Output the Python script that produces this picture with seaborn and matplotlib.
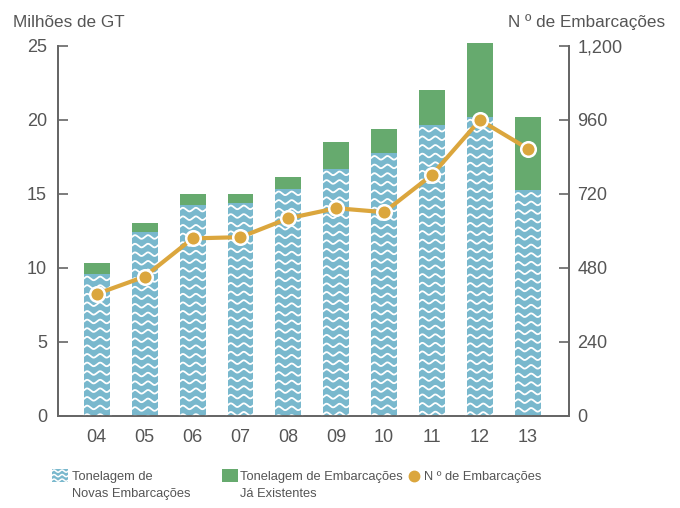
import numpy as np
import pandas as pd
import matplotlib
matplotlib.use("Agg")
import matplotlib.pyplot as plt
import seaborn as sns
from matplotlib.lines import Line2D
from matplotlib.patches import Rectangle, Patch
from matplotlib.transforms import IdentityTransform, Affine2D
from matplotlib.legend_handler import HandlerBase
from matplotlib.ticker import FuncFormatter, FixedLocator

# ---------------- data ----------------
years = ["04", "05", "06", "07", "08", "09", "10", "11", "12", "13"]
new_tonnage = [9.6, 12.4, 14.25, 14.4, 15.35, 16.7, 17.75, 19.65, 20.2, 15.25]
total_tonnage = [10.35, 13.05, 15.0, 15.0, 16.15, 18.5, 19.4, 22.05, 25.2, 20.2]
vessels = [396, 452, 576, 580, 641, 674, 661, 782, 960, 867]
left_ticks = [0, 5, 10, 15, 20, 25]
right_ticks = [0, 240, 480, 720, 960, 1200]
left_title = "Milhões de GT"
right_title = "N º de Embarcações"
legend_labels = ["Tonelagem de\nNovas Embarcações",
                 "Tonelagem de Embarcações\nJá Existentes",
                 "N º de Embarcações\n"]

# ---------------- style ----------------
BLUE = "#79b8cd"
GREEN = "#66aa6e"
ORANGE = "#dba63d"
TEXT = "#555555"
SPINE = "#666666"

sns.set_theme(style="white")
plt.rcParams["font.family"] = ["Liberation Sans", "DejaVu Sans"]
plt.rcParams["text.color"] = TEXT

fig = plt.figure(figsize=(6.8, 5.08), dpi=100)
ax = fig.add_axes([58 / 680, 1 - 416 / 508, (569 - 58) / 680, (416 - 46) / 508])

df = pd.DataFrame({"year": years, "total": total_tonnage, "new": new_tonnage})

sns.barplot(data=df, x="year", y="total", order=years, color=GREEN, saturation=1,
            width=0.54, errorbar=None, ax=ax, zorder=2)
sns.barplot(data=df, x="year", y="new", order=years, color=BLUE, saturation=1,
            width=0.54, errorbar=None, ax=ax, zorder=2)

n = len(years)
for p in ax.patches[:n]:
    p.set_clip_on(False)
    p.set_linewidth(0)
blue_patches = ax.patches[n:2 * n]
for p in blue_patches:
    p.set_linewidth(0)

ax.set_xlim(-0.81, n - 1 + 0.86)
ax.set_ylim(0, 25)
ax.yaxis.set_major_locator(FixedLocator(left_ticks))
ax.set_xlabel("")
ax.set_ylabel("")

ax2 = ax.twinx()
sns.lineplot(x=years, y=vessels, ax=ax2, color=ORANGE, linewidth=3, marker="o",
             markersize=10.5, markeredgecolor="white", markeredgewidth=1.8, zorder=5,
             clip_on=False)
ax2.set_ylim(0, 1200)
ax2.yaxis.set_major_locator(FixedLocator(right_ticks))
ax2.yaxis.set_major_formatter(FuncFormatter(lambda v, _: f"{int(v):,}"))
ax2.set_ylabel("")
ax2.set_xlim(-0.81, n - 1 + 0.86)

# wavy texture on the blue bars (generated from each bar's extent, top down)
def wave_lines(bb, spacing=8.6, amp=1.8, wavelength=13.0, top_gap=4.5):
    xs = np.linspace(bb.x0 - 2, bb.x1 + 2, 160)
    lines = []
    y = bb.y1 - top_gap
    while y > bb.y0 - spacing:
        ys = y + amp * np.sin(2 * np.pi * (xs - bb.x0) / wavelength)
        lines.append((xs, ys))
        y -= spacing
    return lines

for p in blue_patches:
    bb = p.get_window_extent()
    for xs, ys in wave_lines(bb):
        ln = Line2D(xs, ys, transform=IdentityTransform(), color="white",
                    linewidth=1.3, zorder=3, solid_capstyle="butt")
        ln.set_clip_path(p)
        ax.add_artist(ln)

# spines and ticks
for a in (ax, ax2):
    a.spines["top"].set_visible(False)
    for s in ("left", "right", "bottom"):
        a.spines[s].set_color(SPINE)
        a.spines[s].set_linewidth(1.3)
ax.tick_params(axis="y", direction="in", length=7, width=1.2, color=SPINE, pad=8,
               labelsize=13, labelcolor=TEXT)
ax.tick_params(axis="x", length=0, pad=9, labelsize=13, labelcolor=TEXT)
ax2.tick_params(axis="y", direction="in", length=7, width=1.2, color=SPINE, pad=6,
                labelsize=13, labelcolor=TEXT)
ax.grid(False)
ax2.grid(False)

fig.text(13 / 680, 1 - 27 / 508, left_title, ha="left", va="baseline",
         fontsize=12.3, color=TEXT)
fig.text(665 / 680, 1 - 27 / 508, right_title, ha="right", va="baseline",
         fontsize=12.3, color=TEXT)

# legend
LEG_FS = 9.3
LINESP = 1.55
SHIFT = LEG_FS * LINESP / 2   # lift icons to the first text line (points)

class ShiftedHandler(HandlerBase):
    def __init__(self, kind):
        super().__init__()
        self.kind = kind

    def create_artists(self, legend, orig_handle, xdescent, ydescent, width, height,
                       fontsize, trans):
        t = Affine2D().translate(0, SHIFT) + trans
        x0, y0 = -xdescent, -ydescent
        arts = []
        if self.kind == "wave":
            arts.append(Rectangle((x0, y0), width, height, facecolor=BLUE,
                                  edgecolor="none", transform=t))
            xs = np.linspace(x0, x0 + width, 40)
            for i in range(3):
                yc = y0 + height * (i + 0.5) / 3
                ys = yc + height * 0.08 * np.sin(2 * np.pi * (xs - x0) / (width / 2.0))
                arts.append(Line2D(xs, ys, color="white", linewidth=1.1, transform=t))
        elif self.kind == "square":
            arts.append(Rectangle((x0, y0), width, height, facecolor=GREEN,
                                  edgecolor="none", transform=t))
        else:
            arts.append(Line2D([x0 + width * 0.5], [y0 + height / 2], marker="o",
                               markersize=7.5, color=ORANGE, linestyle="none",
                               transform=t))
        return arts

h_blue = Patch(facecolor=BLUE)
h_green = Patch(facecolor=GREEN)
h_dot = Line2D([], [], color=ORANGE, marker="o", linestyle="none")
entries = [(h_blue, "wave", legend_labels[0], 52, 1.25, 0.3),
           (h_green, "square", legend_labels[1], 222, 1.25, 0.12),
           (h_dot, "dot", legend_labels[2], 408, 0.9, 0.3)]
for h, kind, lab, xpix, hl, htp in entries:
    leg = fig.legend(handles=[h], labels=[lab], handler_map={h: ShiftedHandler(kind)},
                     loc="upper left", bbox_to_anchor=(xpix / 680, 1 - 471 / 508),
                     frameon=False, fontsize=LEG_FS, handlelength=hl, handleheight=1.24,
                     handletextpad=htp, borderaxespad=0, borderpad=0, labelspacing=0,
                     labelcolor=TEXT)
    for txt in leg.get_texts():
        txt.set_linespacing(LINESP)

fig.savefig("out.png", dpi=100)
